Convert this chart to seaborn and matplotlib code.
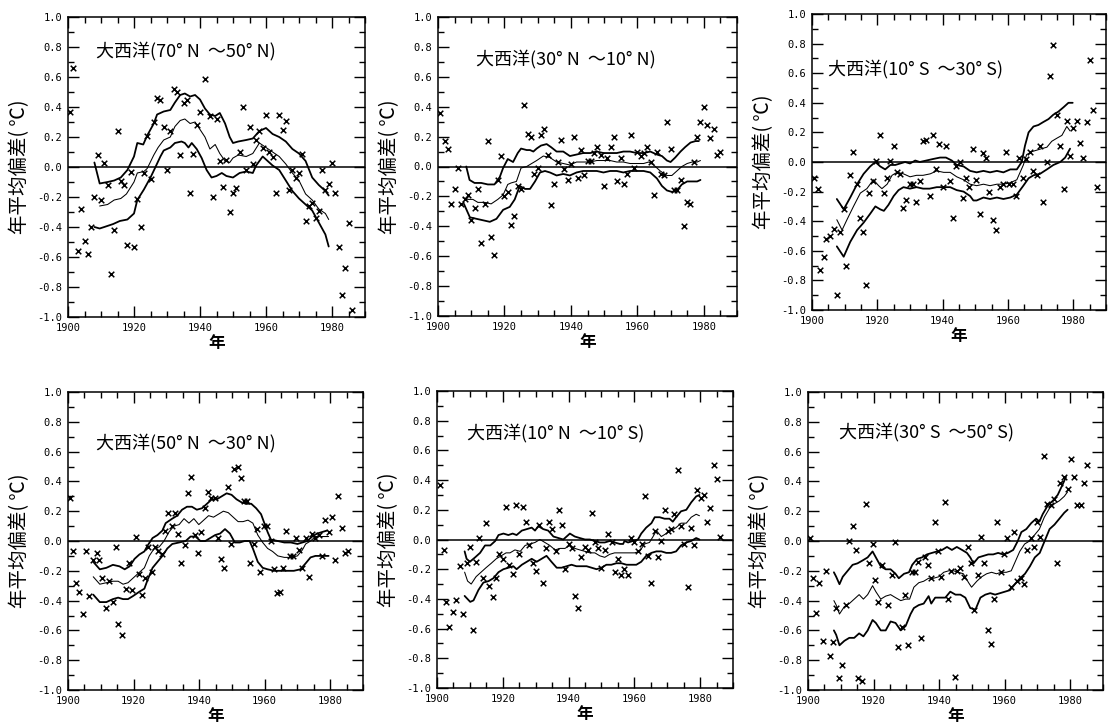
import matplotlib
matplotlib.use("Agg")
import matplotlib.pyplot as plt
import seaborn as sns
from matplotlib.ticker import MultipleLocator, FormatStrFormatter

# ---------------- data ----------------
titles = ["大西洋(70° N  ～50° N)", "大西洋(30° N  ～10° N)", "大西洋(10° S  ～30° S)",
          "大西洋(50° N  ～30° N)", "大西洋(10° N  ～10° S)", "大西洋(30° S  ～50° S)"]
xlabel_txt = "年"
ylabel_txt = "年平均偏差( ℃)"
xticks = [1900, 1920, 1940, 1960, 1980]
yticks = [-1.0, -0.8, -0.6, -0.4, -0.2, 0.0, 0.2, 0.4, 0.6, 0.8, 1.0]

# Panel 1: 70N-50N
p1_years = [1900.5, 1901.5, 1903, 1904, 1905, 1906, 1907, 1908, 1909, 1910,
            1911, 1912, 1913, 1914, 1915, 1916, 1917, 1918, 1919, 1920,
            1921, 1922, 1923, 1924, 1925, 1926, 1927, 1928, 1929, 1930,
            1931, 1932, 1933, 1934, 1935, 1936, 1937, 1938, 1939, 1940,
            1941.5, 1943, 1944, 1945, 1946, 1947, 1948, 1949, 1950, 1951,
            1952, 1953, 1954, 1955, 1956, 1957, 1958, 1959, 1960, 1961,
            1962, 1963, 1964, 1965, 1966, 1967, 1968, 1969, 1970, 1971,
            1972, 1973, 1974, 1975, 1976, 1977, 1978, 1979, 1980, 1981,
            1982, 1983, 1984, 1985, 1986]
p1_anom = [0.37, 0.66, -0.56, -0.28, -0.49, -0.58, -0.40, -0.20, 0.08, -0.22,
           0.03, -0.12, -0.71, -0.42, 0.24, -0.09, -0.12, -0.52, -0.03, -0.53,
           -0.21, -0.40, -0.04, 0.21, -0.08, 0.30, 0.46, 0.45, 0.27, -0.02,
           0.24, 0.52, 0.50, 0.08, 0.43, 0.45, -0.17, 0.09, 0.28, 0.37,
           0.59, 0.34, -0.20, 0.32, 0.04, -0.13, 0.05, -0.30, -0.17, -0.14,
           0.10, 0.40, -0.02, 0.27, 0.02, 0.18, 0.24, 0.13, 0.35, 0.10,
           0.07, -0.17, 0.35, 0.25, 0.31, -0.15, -0.02, -0.07, -0.04, 0.09,
           -0.36, -0.26, -0.24, -0.34, -0.29, -0.02, -0.15, -0.11, 0.03, -0.17,
           -0.53, -0.85, -0.67, -0.37, -0.95]
p1_up_x = [1908, 1909.6, 1912, 1914, 1916, 1918, 1920, 1921, 1922.8, 1924, 1926, 1927, 1929, 1931,
           1932.4, 1934, 1935.4, 1937, 1938.5, 1940, 1941.5, 1943, 1944.6, 1946, 1947.6, 1949, 1950,
           1951.6, 1954, 1956, 1958, 1960, 1962, 1964, 1966, 1968, 1970, 1972, 1974, 1976, 1978, 1979]
p1_up_y = [0.03, -0.11, -0.10, -0.09, -0.07, -0.02, 0.07, 0.16, 0.15, 0.21, 0.29, 0.35, 0.37, 0.38,
           0.43, 0.48, 0.49, 0.47, 0.48, 0.45, 0.39, 0.35, 0.34, 0.36, 0.29, 0.20, 0.16,
           0.17, 0.18, 0.19, 0.24, 0.26, 0.22, 0.20, 0.17, 0.12, 0.09, 0.04, -0.07, -0.12, -0.16, -0.19]
p1_mid_x = [1909.6, 1912, 1914, 1916, 1917.7, 1920, 1921, 1923, 1924, 1926, 1927.3, 1929, 1931, 1932.4,
            1934, 1935.4, 1937, 1938.5, 1940, 1941.5, 1943, 1944.6, 1946, 1947.6, 1949, 1950, 1951.6,
            1954, 1956, 1958, 1960, 1962, 1964, 1966, 1968, 1970, 1972, 1974, 1976, 1978, 1979]
p1_mid_y = [-0.26, -0.25, -0.22, -0.21, -0.18, -0.10, -0.04, -0.03, -0.01, 0.08, 0.13, 0.18, 0.20, 0.27,
            0.31, 0.32, 0.29, 0.30, 0.25, 0.20, 0.12, 0.15, 0.09, 0.04, 0.03, 0.06, 0.08,
            0.07, 0.09, 0.16, 0.13, 0.10, 0.07, 0.02, -0.04, -0.09, -0.18, -0.22, -0.28, -0.31, -0.35]
p1_lo_x = [1908, 1909.6, 1911, 1913.7, 1915.7, 1918, 1920, 1921, 1923, 1925, 1926.3, 1928, 1929, 1931,
           1932.4, 1934.4, 1935.4, 1936.5, 1937.5, 1939, 1940.5, 1942, 1943.5, 1945, 1946.6, 1948, 1950,
           1952, 1954, 1956, 1957, 1959, 1961, 1962, 1964, 1966, 1968, 1970, 1972, 1974, 1976, 1978, 1979]
p1_lo_y = [-0.40, -0.41, -0.40, -0.38, -0.36, -0.35, -0.31, -0.22, -0.15, -0.07, -0.01, 0.07, 0.11, 0.13,
           0.16, 0.17, 0.16, 0.13, 0.16, 0.12, 0.06, -0.02, -0.07, -0.06, -0.04, -0.06, -0.07,
           -0.04, -0.03, -0.04, 0.01, 0.07, 0.03, 0.01, -0.02, -0.09, -0.16, -0.21, -0.25, -0.29, -0.37, -0.45, -0.53]

# Panel 2: 30N-10N
p2_years = [1900.5, 1902, 1903, 1904, 1905, 1906, 1907, 1908, 1909, 1910,
            1911, 1912, 1913, 1914, 1915, 1916, 1917, 1918, 1919, 1920,
            1921, 1922, 1923, 1924, 1925, 1926, 1927, 1928, 1929, 1930,
            1931, 1932, 1933, 1934, 1935, 1936, 1937, 1938, 1939, 1940,
            1941, 1942, 1943, 1944, 1945, 1946, 1947, 1948, 1949, 1950,
            1951, 1952, 1953, 1954, 1955, 1956, 1957, 1958, 1959, 1960,
            1961, 1962, 1963, 1964, 1965, 1966, 1967, 1968, 1969, 1970,
            1971, 1972, 1973, 1974, 1975, 1976, 1977, 1978, 1979, 1980,
            1981, 1982, 1983, 1984, 1985]
p2_anom = [0.36, 0.17, 0.12, -0.25, -0.15, -0.01, -0.25, -0.22, -0.19, -0.36,
           -0.28, -0.15, -0.51, -0.25, 0.17, -0.47, -0.59, -0.09, 0.07, -0.20,
           -0.17, -0.39, -0.33, -0.13, -0.15, 0.41, 0.22, 0.20, -0.05, -0.01,
           0.21, 0.25, 0.08, -0.26, -0.12, 0.03, 0.18, -0.02, -0.09, 0.02,
           0.20, -0.08, 0.11, -0.06, 0.04, 0.04, 0.09, 0.13, 0.08, -0.13,
           0.06, 0.13, 0.20, -0.10, 0.06, -0.12, -0.05, 0.21, -0.01, 0.10,
           0.07, 0.09, 0.13, 0.03, -0.19, 0.10, -0.05, -0.06, 0.30, 0.12,
           -0.16, -0.16, -0.09, -0.40, -0.24, -0.25, 0.03, 0.20, 0.30, 0.40,
           0.28, 0.19, 0.25, 0.08, 0.10]
p2_up_x = [1908.5, 1909.5, 1911, 1913, 1915, 1917, 1918.6, 1919.6, 1921, 1922.6, 1924, 1925, 1926.7,
           1927.7, 1928.7, 1929.7, 1931, 1932.7, 1934, 1935.7, 1937.7, 1939.7, 1941.7, 1943.7, 1945.8,
           1947.8, 1949.8, 1951.8, 1953.8, 1955.8, 1957.8, 1959.8, 1961.9, 1963.9, 1965.9, 1967.4,
           1968.9, 1970, 1971.4, 1973, 1974.4, 1976, 1977.5, 1978.5]
p2_up_y = [0.0, -0.09, -0.11, -0.11, -0.12, -0.12, -0.07, -0.01, 0.05, 0.03, 0.09, 0.12, 0.11,
           0.11, 0.10, 0.12, 0.14, 0.15, 0.13, 0.10, 0.10, 0.07, 0.08, 0.09, 0.09,
           0.10, 0.09, 0.09, 0.09, 0.10, 0.10, 0.09, 0.09, 0.10, 0.08, 0.07,
           0.04, 0.03, 0.06, 0.10, 0.13, 0.16, 0.17, 0.17]
p2_mid_x = [1907.5, 1909, 1910.5, 1912, 1914, 1916, 1918, 1919.6, 1921, 1922, 1923.6, 1925, 1926.7,
            1929.7, 1931.7, 1933.7, 1935.7, 1937.7, 1939.7, 1941.7, 1943.7, 1945.8, 1947.8, 1949.8,
            1951.8, 1953.8, 1955.8, 1957.8, 1959.8, 1961.9, 1963.4, 1964.9, 1966.9, 1968.9, 1970.4,
            1971.9, 1973.4, 1975, 1976.5, 1978, 1979]
p2_mid_y = [-0.21, -0.22, -0.22, -0.24, -0.24, -0.25, -0.22, -0.19, -0.12, -0.11, -0.10, -0.01, 0.0,
            0.04, 0.07, 0.06, 0.03, 0.02, 0.01, 0.03, 0.03, 0.03, 0.04, 0.04,
            0.04, 0.03, 0.03, 0.02, 0.02, 0.02, 0.03, 0.01, -0.03, -0.06, -0.06,
            -0.03, 0.0, 0.02, 0.03, 0.03, 0.04]
p2_lo_x = [1907.8, 1909.6, 1911.6, 1913.6, 1915.6, 1917.6, 1919.6, 1921.6, 1923.1, 1924.6, 1926.2,
           1927.7, 1929.2, 1930.7, 1932.2, 1933.7, 1935.7, 1937.7, 1939.7, 1941.7, 1943.7, 1945.8,
           1947.8, 1949.8, 1951.8, 1953.8, 1955.8, 1957.8, 1959.8, 1961.9, 1963.9, 1965.9, 1967.4,
           1968.9, 1970.4, 1971.9, 1973.4, 1975, 1976.5, 1978, 1979]
p2_lo_y = [-0.25, -0.34, -0.35, -0.36, -0.37, -0.35, -0.29, -0.27, -0.22, -0.13, -0.15,
           -0.15, -0.10, -0.04, -0.03, -0.04, -0.06, -0.05, -0.06, -0.04, -0.03, -0.03,
           -0.03, -0.04, -0.03, -0.03, -0.04, -0.03, -0.03, -0.03, -0.04, -0.08, -0.13,
           -0.16, -0.17, -0.16, -0.12, -0.10, -0.10, -0.10, -0.09]

# Panel 3: 10S-30S
p3_years = [1900.5, 1901.7, 1902.5, 1903.6, 1904.4, 1905.4, 1906.6, 1907.6, 1908.5, 1909.7,
            1910.5, 1911.7, 1912.7, 1913.8, 1914.8, 1915.6, 1916.6, 1917.6, 1918.7, 1919.7,
            1920.9, 1921.9, 1922.9, 1924, 1925, 1926, 1926.8, 1928, 1928.8, 1930,
            1931, 1931.9, 1933.1, 1933.9, 1935, 1936, 1937, 1938, 1939, 1940.1,
            1941.1, 1942.1, 1943.1, 1944.1, 1945.2, 1946.2, 1947.2, 1948.2, 1949.2, 1950.3,
            1951.3, 1952.3, 1953.3, 1954.3, 1955.4, 1956.4, 1957.4, 1958.4, 1959.4, 1960.4,
            1961.5, 1962.5, 1963.5, 1964.5, 1965.5, 1966.6, 1967.6, 1968.8, 1969.8, 1970.8,
            1971.9, 1972.9, 1973.9, 1974.9, 1975.9, 1977, 1978, 1979, 1980, 1981,
            1982.1, 1983.1, 1984.1, 1985.1, 1986.1, 1987.2]
p3_anom = [-0.11, -0.18, -0.73, -0.64, -0.52, -0.50, -0.45, -0.90, -0.47, -0.32,
           -0.70, -0.09, 0.07, -0.15, -0.38, -0.47, -0.83, -0.21, -0.13, 0.01,
           0.18, -0.21, -0.11, 0.01, 0.11, -0.07, -0.08, -0.31, -0.26, -0.15,
           -0.15, -0.27, -0.13, 0.14, 0.15, -0.23, 0.18, -0.05, 0.12, -0.17,
           0.11, -0.13, -0.38, -0.03, 0.0, -0.24, -0.11, -0.17, 0.09, -0.12,
           -0.35, 0.06, 0.03, -0.20, -0.39, -0.46, -0.17, -0.15, 0.07, -0.15,
           -0.15, -0.23, 0.03, -0.11, 0.02, 0.07, -0.06, -0.09, 0.11, -0.27,
           0.0, 0.58, 0.79, 0.32, 0.11, -0.18, 0.28, 0.04, 0.23, 0.28,
           0.13, 0.03, 0.27, 0.69, 0.35, -0.17]
p3_up_x = [1907.6, 1909.7, 1911.7, 1913.8, 1915.8, 1917.8, 1919.4, 1920.9, 1922.4, 1924, 1925.5, 1927,
           1928.5, 1930, 1931.6, 1933, 1935, 1937, 1939.2, 1941, 1942.8, 1944.3, 1946.4, 1948.4, 1950.4,
           1952.5, 1954.5, 1956.6, 1958.6, 1960.7, 1962.7, 1964.2, 1965.2, 1966.3, 1967.8, 1969.3,
           1970.8, 1972.4, 1973.9, 1975.4, 1977, 1978.5, 1979.8]
p3_up_y = [-0.25, -0.32, -0.24, -0.15, -0.08, -0.03, 0.0, -0.03, -0.05, -0.02, -0.02, -0.01,
           0.0, -0.01, 0.01, 0.0, 0.01, 0.02, 0.03, 0.03, 0.01, -0.02, -0.03, -0.06, -0.07,
           -0.06, -0.07, -0.06, -0.07, -0.05, -0.05, 0.0, 0.11, 0.20, 0.24, 0.25,
           0.27, 0.29, 0.32, 0.34, 0.37, 0.40, 0.40]
p3_mid_x = [1907.6, 1909.2, 1910.7, 1912.7, 1914.8, 1916.8, 1918.8, 1920.4, 1921.4, 1923, 1924.5, 1926,
            1928, 1930, 1932, 1934, 1936.2, 1938.2, 1940.3, 1942.3, 1944.3, 1946.4, 1948.4, 1950.4,
            1952.5, 1954.5, 1956.6, 1958.6, 1960.7, 1962.7, 1964.7, 1965.7, 1967.3, 1968.8, 1970.3,
            1971.9, 1973.4, 1974.9, 1976.5, 1978, 1979]
p3_mid_y = [-0.39, -0.46, -0.39, -0.30, -0.21, -0.18, -0.12, -0.16, -0.18, -0.15, -0.09, -0.07,
            -0.08, -0.10, -0.09, -0.09, -0.08, -0.06, -0.07, -0.07, -0.10, -0.12, -0.15, -0.16,
            -0.15, -0.16, -0.15, -0.15, -0.14, -0.12, -0.02, 0.05, 0.07, 0.08, 0.09,
            0.10, 0.14, 0.16, 0.18, 0.24, 0.21]
p3_lo_x = [1907.6, 1909.7, 1911.7, 1913.8, 1915.8, 1917.8, 1919.4, 1920.9, 1922, 1923.4, 1925, 1926.5,
           1928, 1930, 1932, 1934, 1936, 1938.2, 1940.3, 1942.3, 1944.3, 1946.4, 1948.4, 1949.4,
           1950.4, 1952.5, 1954.5, 1956.6, 1958.6, 1960.7, 1962.7, 1964.7, 1966.3, 1967.8, 1969.8,
           1971.9, 1973.9, 1976, 1977.5, 1979]
p3_lo_y = [-0.57, -0.64, -0.54, -0.46, -0.41, -0.35, -0.30, -0.32, -0.33, -0.29, -0.23, -0.19,
           -0.17, -0.18, -0.17, -0.18, -0.18, -0.17, -0.17, -0.17, -0.19, -0.20, -0.23, -0.26,
           -0.26, -0.24, -0.25, -0.24, -0.25, -0.24, -0.22, -0.16, -0.11, -0.09, -0.08,
           -0.05, -0.02, 0.0, 0.03, 0.09]

# Panel 4: 50N-30N
p4_years = [1900.7, 1901.5, 1902.5, 1903.5, 1904.5, 1905.5, 1906.5, 1907.5, 1908.7, 1909.5,
            1910.5, 1911.5, 1912.6, 1913.6, 1914.6, 1915.3, 1916.6, 1917.6, 1918.6, 1919.6,
            1920.6, 1921.6, 1922.6, 1923.6, 1924.5, 1925.6, 1926.6, 1927.6, 1928.6, 1929.6,
            1930.6, 1931.6, 1932.6, 1933.6, 1934.6, 1935.6, 1936.6, 1937.6, 1938.7, 1939.7,
            1940.7, 1941.7, 1942.7, 1943.7, 1944.7, 1945.7, 1946.7, 1947.7, 1948.7, 1949.7,
            1950.7, 1951.8, 1952.7, 1953.7, 1954.7, 1955.4, 1956.7, 1957.7, 1958.7, 1959.7,
            1960.7, 1961.8, 1962.8, 1963.8, 1964.6, 1965.6, 1966.6, 1967.6, 1968.6, 1969.6,
            1970.6, 1971.5, 1972.5, 1973.5, 1974.5, 1975.5, 1976.5, 1977.5, 1978.5, 1979.5,
            1980.5, 1981.5, 1982.5, 1983.5, 1984.5, 1985.5]
p4_anom = [0.29, -0.07, -0.28, -0.34, -0.49, -0.07, -0.37, -0.13, -0.08, -0.13,
           -0.25, -0.45, -0.27, -0.41, -0.04, -0.56, -0.63, -0.32, -0.15, -0.33,
           0.03, -0.22, -0.36, -0.25, -0.04, -0.21, -0.04, -0.07, -0.09, 0.07,
           0.19, 0.10, 0.19, 0.05, -0.15, -0.03, 0.32, 0.43, 0.04, -0.08,
           0.06, 0.22, 0.33, 0.29, 0.29, 0.02, -0.12, -0.18, 0.36, -0.02,
           0.48, 0.50, 0.42, 0.27, 0.27, -0.15, -0.02, 0.08, -0.21, 0.10,
           0.10, 0.0, -0.19, -0.35, -0.34, -0.18, 0.07, -0.10, -0.10, 0.02,
           -0.06, -0.18, 0.02, -0.24, 0.05, 0.02, 0.04, -0.10, 0.14, 0.06,
           0.16, -0.13, 0.30, 0.09, -0.08, -0.07]
p4_up_x = [1907.7, 1909.7, 1911.7, 1913.7, 1915.7, 1917.3, 1918.8, 1920.3, 1921.8, 1923.3, 1924.3, 1925.8,
           1927.3, 1928.8, 1929.8, 1931.8, 1933.3, 1934.8, 1936.3, 1937.8, 1939.3, 1940.9, 1942.4, 1943.9,
           1945.4, 1946.9, 1948.4, 1949.9, 1951.4, 1952.9, 1954.4, 1955.9, 1957.4, 1958.9, 1959.9, 1960.9,
           1961.9, 1964, 1966, 1968, 1970, 1971.5, 1973, 1974.5, 1976, 1977.5, 1979]
p4_up_y = [-0.14, -0.19, -0.18, -0.16, -0.17, -0.19, -0.17, -0.12, -0.09, -0.07, -0.03, 0.02,
           0.04, 0.07, 0.12, 0.15, 0.17, 0.21, 0.23, 0.23, 0.21, 0.22, 0.25, 0.28,
           0.28, 0.30, 0.32, 0.31, 0.28, 0.26, 0.25, 0.25, 0.22, 0.18, 0.12, 0.06,
           0.01, 0.0, -0.01, -0.01, -0.02, -0.01, 0.0, 0.03, 0.05, 0.06, 0.07]
p4_mid_x = [1907.7, 1909.7, 1911.7, 1913.7, 1915.3, 1916.8, 1918.3, 1919.8, 1921.8, 1923.3, 1924.8, 1926.3,
            1927.8, 1929.3, 1930.8, 1932.3, 1933.9, 1935.4, 1936.9, 1938.4, 1939.9, 1941.4, 1942.9, 1944.4,
            1945.9, 1947.4, 1948.9, 1950.4, 1951.9, 1953.4, 1954.9, 1956.4, 1957.9, 1959.4, 1960.9, 1962.4,
            1964, 1966, 1968, 1970, 1971.5, 1972.5, 1974, 1975.5, 1977, 1978.5, 1979.5]
p4_mid_y = [-0.24, -0.29, -0.28, -0.27, -0.27, -0.29, -0.28, -0.25, -0.21, -0.18, -0.10, -0.05,
            -0.04, 0.0, 0.06, 0.10, 0.11, 0.15, 0.12, 0.15, 0.11, 0.14, 0.17, 0.16,
            0.18, 0.20, 0.19, 0.16, 0.13, 0.13, 0.14, 0.12, 0.04, -0.01, -0.05, -0.07,
            -0.10, -0.11, -0.11, -0.10, -0.06, -0.02, 0.0, 0.03, 0.03, 0.03, 0.03]
p4_lo_x = [1907.7, 1909.7, 1911.7, 1913.7, 1915.3, 1916.8, 1918.3, 1919.8, 1921.8, 1923.3, 1924.3, 1925.8,
           1927.3, 1928.8, 1930.3, 1931.8, 1933.9, 1935.9, 1937.4, 1938.9, 1940.4, 1941.9, 1943.4, 1944.9,
           1946.4, 1947.9, 1949.4, 1950.9, 1952.4, 1953.9, 1955.4, 1956.4, 1957.9, 1959.4, 1960.9, 1962.9,
           1964.9, 1966.9, 1968.9, 1970.9, 1972.5, 1974, 1975.5, 1977, 1978.5, 1979.5]
p4_lo_y = [-0.36, -0.41, -0.41, -0.39, -0.38, -0.39, -0.39, -0.37, -0.34, -0.32, -0.26, -0.18,
           -0.14, -0.10, -0.05, -0.02, -0.01, 0.0, 0.03, 0.03, 0.0, 0.0, 0.02, 0.04,
           0.05, 0.08, 0.05, -0.01, -0.01, 0.0, 0.0, -0.05, -0.14, -0.18, -0.19, -0.20,
           -0.20, -0.20, -0.20, -0.19, -0.15, -0.11, -0.10, -0.10, -0.10, -0.10]

# Panel 5: 10N-10S
p5_years = [1901, 1902, 1902.8, 1903.8, 1904.8, 1905.9, 1906.9, 1907.9, 1909.1, 1910.1,
            1910.9, 1911.9, 1912.9, 1913.9, 1914.9, 1915.7, 1917, 1918, 1919, 1920,
            1921, 1922, 1923, 1924, 1925, 1926, 1927, 1928.1, 1929.1, 1930.1,
            1931.1, 1932.1, 1933.1, 1934.1, 1935.1, 1936.1, 1937.1, 1938.1, 1938.8, 1940,
            1940.9, 1941.9, 1942.9, 1943.9, 1944.9, 1945.9, 1947, 1948, 1949, 1950,
            1951.1, 1952.1, 1953.1, 1954, 1955, 1956, 1957, 1958, 1959.1, 1960,
            1961.2, 1962.2, 1963.2, 1964.2, 1965.2, 1966.2, 1967.2, 1968.2, 1969.2, 1970.1,
            1971.1, 1972.1, 1973.2, 1974.2, 1975.2, 1976.2, 1977.2, 1978.2, 1979.2, 1980.2,
            1981.2, 1982, 1983, 1984.1, 1985.1, 1986.1]
p5_anom = [0.37, -0.07, -0.42, -0.59, -0.49, -0.41, -0.18, -0.50, -0.16, -0.05,
           -0.61, -0.15, 0.01, -0.26, 0.11, -0.31, -0.39, -0.26, -0.10, -0.13,
           0.22, -0.17, -0.23, 0.23, -0.10, 0.22, 0.12, -0.04, -0.16, -0.21,
           0.10, -0.29, -0.06, 0.12, 0.07, -0.08, 0.20, 0.10, -0.20, -0.03,
           -0.06, -0.38, -0.46, -0.12, -0.05, -0.07, 0.18, -0.02, -0.06, -0.19,
           -0.07, 0.04, -0.02, -0.22, -0.13, -0.24, -0.20, -0.24, 0.01, -0.02,
           -0.08, -0.03, 0.29, -0.11, -0.29, 0.06, -0.12, -0.01, 0.20, 0.06,
           0.07, 0.17, 0.47, 0.09, -0.03, -0.32, 0.08, -0.04, 0.33, 0.28,
           0.30, 0.12, 0.21, 0.50, 0.41, 0.02]
p5_up_x = [1908.4, 1909, 1910, 1911.6, 1913.1, 1914.6, 1916.2, 1917.7, 1918.7, 1920.2, 1921.7, 1923,
           1924.2, 1925.8, 1927.3, 1928.8, 1929.8, 1930.8, 1932.3, 1933.8, 1935.4, 1936.9, 1938.4, 1939.4,
           1940.4, 1941.9, 1943.4, 1945, 1946.5, 1948, 1949.5, 1951, 1952.5, 1954, 1955.6, 1956.6, 1957,
           1958.1, 1959.6, 1961.1, 1962.1, 1963.6, 1965.2, 1966.2, 1967.7, 1969.2, 1970.7, 1971.7, 1972.7,
           1974.2, 1975.8, 1977.3, 1978.8, 1979.8]
p5_up_y = [-0.08, -0.13, -0.15, -0.12, -0.09, -0.04, -0.04, -0.01, 0.03, 0.04, 0.03, 0.04,
           0.03, 0.06, 0.07, 0.08, 0.06, 0.09, 0.07, 0.06, 0.02, 0.01, 0.0, 0.02,
           0.04, 0.02, 0.01, 0.0, 0.0, -0.01, -0.02, -0.02, -0.01, -0.02, -0.03, -0.03, -0.01,
           -0.02, -0.01, 0.0, 0.04, 0.08, 0.11, 0.15, 0.15, 0.14, 0.14, 0.12, 0.15,
           0.19, 0.20, 0.25, 0.29, 0.30]
p5_mid_x = [1908.4, 1909.3, 1910.4, 1911.9, 1913.4, 1914.9, 1916.5, 1918, 1919.5, 1921, 1922.2, 1923.7,
            1925.3, 1926.8, 1928.3, 1929.8, 1931.3, 1932.8, 1934.3, 1935.9, 1937.4, 1938.9, 1940.4, 1941.9,
            1943.4, 1945, 1946.5, 1948, 1949.5, 1951, 1952.5, 1954, 1955.6, 1957.1, 1958.6, 1960.1, 1961.6,
            1963.1, 1964.6, 1965.7, 1966.7, 1968.2, 1969.7, 1971.2, 1972.7, 1974.2, 1975.8, 1977.3,
            1978.8, 1979.8]
p5_mid_y = [-0.22, -0.28, -0.30, -0.25, -0.22, -0.19, -0.16, -0.13, -0.11, -0.09, -0.09, -0.07,
            -0.08, -0.04, -0.03, -0.02, 0.0, -0.02, -0.04, -0.07, -0.06, -0.06, -0.04, -0.06,
            -0.07, -0.08, -0.09, -0.09, -0.11, -0.12, -0.10, -0.09, -0.09, -0.09, -0.09, -0.09, -0.08,
            -0.03, -0.02, 0.02, 0.06, 0.02, 0.04, 0.06, 0.08, 0.11, 0.11, 0.15,
            0.17, 0.16]
p5_lo_x = [1908.4, 1910.1, 1911.1, 1912.6, 1914.1, 1915.7, 1917.2, 1918.7, 1920.2, 1921.7, 1923.2, 1924.2,
           1925.8, 1927.3, 1928.8, 1930.3, 1931.8, 1933.3, 1934.8, 1936.4, 1937.9, 1939.4, 1940.9, 1942.4,
           1943.9, 1945.5, 1947, 1948.5, 1950, 1951.5, 1953, 1954.5, 1956.1, 1957.6, 1959.1, 1960.6,
           1962.1, 1963.6, 1965.2, 1966.7, 1968.2, 1969.7, 1971.2, 1972.7, 1974.2, 1975.8, 1977.3,
           1978.8, 1979.8]
p5_lo_y = [-0.38, -0.42, -0.41, -0.34, -0.29, -0.28, -0.26, -0.22, -0.20, -0.19, -0.18, -0.20,
           -0.17, -0.15, -0.13, -0.15, -0.13, -0.11, -0.15, -0.19, -0.19, -0.18, -0.17, -0.18,
           -0.18, -0.18, -0.19, -0.20, -0.19, -0.17, -0.17, -0.16, -0.16, -0.17, -0.17, -0.17,
           -0.15, -0.11, -0.09, -0.08, -0.08, -0.09, -0.09, -0.08, -0.04, -0.02, -0.01,
           0.01, 0.0]

# Panel 6: 30S-50S
p6_years = [1900.5, 1901.5, 1902.5, 1903.5, 1904.5, 1905.5, 1906.6, 1907.6, 1908.6, 1909.4,
            1910.4, 1911.6, 1912.6, 1913.6, 1914.6, 1915.4, 1916.4, 1917.7, 1918.5, 1919.7,
            1920.5, 1921.5, 1922.5, 1924.5, 1925.5, 1926.5, 1927.5, 1928.6, 1929.6, 1930.6,
            1931.8, 1932.6, 1933.6, 1934.6, 1935.6, 1936.6, 1937.6, 1938.6, 1939.7, 1940.7,
            1941.7, 1942.7, 1943.7, 1944.7, 1945.4, 1946.4, 1947.7, 1948.7, 1949.7, 1950.7,
            1951.8, 1952.8, 1953.8, 1954.8, 1955.8, 1956.8, 1957.8, 1958.8, 1959.8, 1960.8,
            1961.9, 1962.9, 1963.9, 1964.9, 1965.9, 1966.9, 1967.9, 1968.9, 1969.9, 1970.9,
            1971.9, 1972.9, 1974, 1975, 1976, 1977, 1978.2, 1979.2, 1980.2, 1981,
            1982.2, 1983.2, 1984.1, 1985.1]
p6_anom = [0.02, -0.25, -0.48, -0.28, -0.67, -0.20, -0.77, -0.68, -0.45, -0.92,
           -0.83, -0.43, 0.0, 0.10, -0.06, -0.92, -0.94, 0.25, -0.15, -0.02,
           -0.26, -0.41, -0.16, -0.43, -0.23, -0.01, -0.71, -0.58, -0.36, -0.70,
           -0.21, -0.21, -0.14, -0.65, -0.11, -0.16, -0.25, 0.13, -0.07, -0.24,
           0.26, -0.39, -0.20, -0.91, -0.20, -0.18, -0.24, -0.04, -0.15, -0.46,
           -0.23, 0.03, -0.15, -0.60, -0.69, -0.39, 0.13, -0.21, -0.09, 0.02,
           -0.31, 0.06, -0.27, -0.25, -0.29, -0.06, 0.02, -0.04, 0.13, 0.03,
           0.57, 0.25, 0.24, 0.28, -0.15, 0.39, 0.43, 0.35, 0.55, 0.43,
           0.24, 0.24, 0.39, 0.51]
p6_up_x = [1907.9, 1908.6, 1909.6, 1910.6, 1912.1, 1913.6, 1915.1, 1916.7, 1918.2, 1919.7, 1920.7, 1922.2,
           1923.7, 1925.2, 1926.7, 1927.7, 1929.3, 1930.8, 1931.8, 1933.3, 1934.8, 1936.3, 1937.8, 1939.4,
           1940.9, 1942.4, 1943.9, 1945.4, 1947, 1948.5, 1949.5, 1950.5, 1952, 1953.5, 1955, 1956.5,
           1958, 1959.5, 1961, 1962.6, 1964, 1965.1, 1966.6, 1968.1, 1969.6, 1970.6, 1971.6, 1973.2,
           1974.7, 1976.2, 1977.7, 1978.7]
p6_up_y = [-0.21, -0.24, -0.29, -0.24, -0.20, -0.16, -0.15, -0.13, -0.11, -0.07, -0.11, -0.17,
           -0.19, -0.19, -0.22, -0.25, -0.22, -0.21, -0.16, -0.12, -0.11, -0.09, -0.08, -0.07,
           -0.06, -0.04, -0.06, -0.04, -0.06, -0.08, -0.11, -0.15, -0.11, -0.10, -0.09, -0.09,
           -0.08, -0.09, -0.08, -0.06, 0.0, 0.06, 0.08, 0.12, 0.15, 0.13, 0.18, 0.24,
           0.27, 0.31, 0.38, 0.43]
p6_mid_x = [1907.9, 1908.6, 1909.6, 1911.1, 1912.6, 1914.1, 1915.6, 1916.9, 1918.2, 1919.7, 1920.7, 1922.2,
            1923.7, 1925.2, 1926.7, 1928.3, 1929.8, 1931, 1932.3, 1933.8, 1935.3, 1936.8, 1938.3, 1939.9,
            1941.4, 1942.9, 1944.4, 1945.9, 1947.4, 1949, 1949.9, 1951.5, 1953, 1954.5, 1956, 1957.5,
            1959, 1960.5, 1962, 1963, 1964.6, 1966.1, 1967.6, 1969.1, 1970.6, 1972.1, 1973.7, 1975.2,
            1976.7, 1978.2, 1979.2]
p6_mid_y = [-0.40, -0.43, -0.49, -0.44, -0.42, -0.39, -0.36, -0.39, -0.36, -0.30, -0.34, -0.39,
            -0.37, -0.36, -0.38, -0.40, -0.39, -0.39, -0.31, -0.28, -0.27, -0.25, -0.25, -0.24,
            -0.21, -0.20, -0.20, -0.21, -0.22, -0.28, -0.31, -0.27, -0.24, -0.22, -0.21, -0.22,
            -0.21, -0.21, -0.20, -0.15, -0.07, -0.02, 0.0, 0.04, 0.08, 0.16, 0.22, 0.25,
            0.27, 0.30, 0.33]
p6_lo_x = [1907.9, 1908.6, 1909.6, 1911.1, 1912.6, 1914.1, 1915.6, 1916.9, 1918.2, 1919.7, 1920.7, 1922.2,
           1923.7, 1925.2, 1926.7, 1928.3, 1929.8, 1931.3, 1932.3, 1933.8, 1935.3, 1936.8, 1937.6, 1938.8,
           1940.4, 1941.9, 1943.4, 1945, 1946.5, 1948, 1949.5, 1951.1, 1952.6, 1954.1, 1955.6, 1957.1,
           1958.6, 1960.1, 1961.6, 1963.1, 1964.7, 1966.2, 1967.7, 1969.2, 1970.7, 1972.2, 1973.7,
           1975.2, 1976.7, 1978.2, 1979.2]
p6_lo_y = [-0.60, -0.63, -0.70, -0.67, -0.65, -0.65, -0.62, -0.64, -0.60, -0.53, -0.55, -0.60,
           -0.60, -0.54, -0.55, -0.60, -0.57, -0.49, -0.45, -0.43, -0.42, -0.37, -0.42, -0.38,
           -0.38, -0.38, -0.34, -0.36, -0.36, -0.38, -0.45, -0.46, -0.38, -0.36, -0.35, -0.36,
           -0.35, -0.34, -0.33, -0.29, -0.25, -0.22, -0.17, -0.11, -0.08, 0.0, 0.08,
           0.11, 0.15, 0.19, 0.21]

panels = [
    (p1_years, p1_anom, [(p1_up_x, p1_up_y), (p1_mid_x, p1_mid_y), (p1_lo_x, p1_lo_y)]),
    (p2_years, p2_anom, [(p2_up_x, p2_up_y), (p2_mid_x, p2_mid_y), (p2_lo_x, p2_lo_y)]),
    (p3_years, p3_anom, [(p3_up_x, p3_up_y), (p3_mid_x, p3_mid_y), (p3_lo_x, p3_lo_y)]),
    (p4_years, p4_anom, [(p4_up_x, p4_up_y), (p4_mid_x, p4_mid_y), (p4_lo_x, p4_lo_y)]),
    (p5_years, p5_anom, [(p5_up_x, p5_up_y), (p5_mid_x, p5_mid_y), (p5_lo_x, p5_lo_y)]),
    (p6_years, p6_anom, [(p6_up_x, p6_up_y), (p6_mid_x, p6_mid_y), (p6_lo_x, p6_lo_y)]),
]

# ---------------- layout / style ----------------
sns.set_theme(style="ticks")
plt.rcParams["font.family"] = ["Noto Sans CJK SC", "DejaVu Sans"]
plt.rcParams["axes.unicode_minus"] = False

W, H = 1108, 727
fig = plt.figure(figsize=(W / 100, H / 100), dpi=100)
fig.patch.set_facecolor("white")

# axes boxes in pixels: left, top, right, bottom
boxes = [(68, 17, 365, 317), (438, 17, 737, 316), (812, 14, 1106, 310),
         (68, 392, 363, 690), (437, 391, 733, 688), (808, 392, 1103, 690)]
title_pos = [(1908.5, 0.77), (1911.5, 0.72), (1905, 0.63),
             (1908.5, 0.66), (1909, 0.72), (1909.5, 0.73)]

for i, (box, (sx, sy, lines)) in enumerate(zip(boxes, panels)):
    l, t, r, b = box
    ax = fig.add_axes([l / W, 1 - b / H, (r - l) / W, (b - t) / H])
    ax.set_facecolor("white")
    ax.axhline(0, color="black", lw=1.1, zorder=2)
    for (lx, ly), lw in zip(lines, [1.3, 0.75, 1.3]):
        sns.lineplot(x=lx, y=ly, color="black", lw=lw, ax=ax, estimator=None, sort=False, zorder=2)
    sns.scatterplot(x=sx, y=sy, marker="x", color="black", s=16, linewidth=1.1, ax=ax, zorder=3)
    ax.set_xlim(1900, 1990)
    ax.set_ylim(-1.0, 1.0)
    ax.set_xticks(xticks)
    ax.set_yticks(yticks)
    ax.xaxis.set_minor_locator(MultipleLocator(5))
    ax.yaxis.set_minor_locator(MultipleLocator(0.1))
    ax.yaxis.set_major_formatter(FormatStrFormatter("%.1f"))
    ax.tick_params(which="both", direction="in", top=True, right=True, color="black",
                   labelsize=7.5, width=1.0, pad=4)
    ax.tick_params(which="major", length=8)
    ax.tick_params(which="minor", length=4)
    for lbl in ax.get_xticklabels() + ax.get_yticklabels():
        lbl.set_fontfamily("DejaVu Sans Mono")
        lbl.set_color("black")
    for sp in ax.spines.values():
        sp.set_color("black")
        sp.set_linewidth(1.1)
    ax.set_xlabel(xlabel_txt, fontsize=12, fontweight="bold", color="black", labelpad=1)
    ax.set_ylabel(ylabel_txt, fontsize=14, color="black", labelpad=5)
    tx, ty = title_pos[i]
    ax.text(tx, ty, titles[i], fontsize=13, color="black", ha="left", va="center",
            family=["Noto Sans CJK SC", "DejaVu Sans"])

fig.savefig("out.png", dpi=100, facecolor="white")
